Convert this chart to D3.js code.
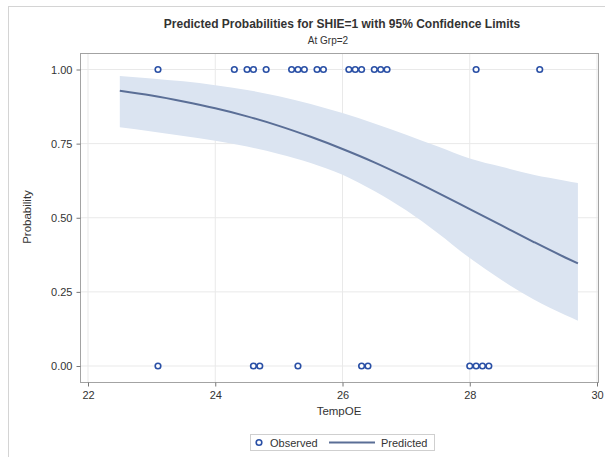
<!DOCTYPE html>
<html>
<head>
<meta charset="utf-8">
<script src="https://cdn.jsdelivr.net/npm/d3@7"></script>
<style>
  body { margin: 0; background: #fff; }
  text { font-family: "Liberation Sans", Arial, sans-serif; fill: #333; }
</style>
</head>
<body>
<script>
// observed responses (TempOE, SHIE)
const obsX1 = [23.1, 24.3, 24.5, 24.6, 24.8, 25.2, 25.3, 25.4, 25.6, 25.7, 26.1, 26.2, 26.3, 26.5, 26.6, 26.7, 28.1, 29.1];
const obsX0 = [23.1, 24.6, 24.7, 25.3, 26.3, 26.4, 28.0, 28.1, 28.2, 28.3];

// predicted curve + 95% limits
const curveX = [22.5, 23.0, 23.5, 24.0, 24.5, 25.0, 25.5, 26.0, 26.5, 27.0, 27.5, 28.0, 28.5, 29.0, 29.5, 29.7];
const predicted = [0.928, 0.912, 0.892, 0.869, 0.842, 0.810, 0.773, 0.732, 0.687, 0.637, 0.584, 0.529, 0.474, 0.419, 0.366, 0.346];
const lower = [0.805, 0.791, 0.776, 0.760, 0.740, 0.715, 0.685, 0.645, 0.590, 0.525, 0.448, 0.364, 0.290, 0.225, 0.172, 0.153];
const upper = [0.978, 0.970, 0.960, 0.947, 0.931, 0.910, 0.884, 0.853, 0.818, 0.780, 0.740, 0.700, 0.672, 0.645, 0.625, 0.617];

const xTicks = [22, 24, 26, 28, 30];
const yTicks = [0, 0.25, 0.5, 0.75, 1];

const width = 605;
const height = 457;

const svg = d3.select('body').append('svg')
  .attr('width', width)
  .attr('height', height);

// outer graph border (runs off the right and bottom of the crop)
svg.append('rect')
  .attr('x', 8.5).attr('y', 6.5)
  .attr('width', 700).attr('height', 500)
  .attr('fill', 'none').attr('stroke', '#d4d4d4');

const frame = {left: 80, right: 598, top: 53, bottom: 382};

const x = d3.scaleLinear().domain([22, 30]).range([88, 597]);
const y = d3.scaleLinear().domain([0, 1]).range([366, 69.5]);

// gridlines
svg.append('g').selectAll('line')
  .data(xTicks)
  .enter().append('line')
  .attr('x1', d => x(d)).attr('x2', d => x(d))
  .attr('y1', frame.top).attr('y2', frame.bottom)
  .attr('stroke', '#e9e9e9');

svg.append('g').selectAll('line')
  .data(yTicks)
  .enter().append('line')
  .attr('x1', frame.left).attr('x2', frame.right)
  .attr('y1', d => y(d)).attr('y2', d => y(d))
  .attr('stroke', '#e9e9e9');

const rows = curveX.map((v, i) => ({x: v, p: predicted[i], lo: lower[i], hi: upper[i]}));

// confidence band
svg.append('path')
  .datum(rows)
  .attr('fill', '#dbe4f1')
  .attr('d', d3.area()
    .curve(d3.curveMonotoneX)
    .x(d => x(d.x))
    .y0(d => y(d.lo))
    .y1(d => y(d.hi)));

// predicted line
svg.append('path')
  .datum(rows)
  .attr('fill', 'none')
  .attr('stroke', '#5a6e96')
  .attr('stroke-width', 2)
  .attr('d', d3.line()
    .curve(d3.curveMonotoneX)
    .x(d => x(d.x))
    .y(d => y(d.p)));

// observed points
const obs = obsX1.map(v => ({x: v, y: 1})).concat(obsX0.map(v => ({x: v, y: 0})));
svg.append('g').selectAll('circle')
  .data(obs)
  .enter().append('circle')
  .attr('cx', d => x(d.x))
  .attr('cy', d => y(d.y))
  .attr('r', 2.8)
  .attr('fill', '#fff')
  .attr('stroke', '#2a50a6')
  .attr('stroke-width', 1.6);

// frame
svg.append('rect')
  .attr('x', frame.left + 0.5).attr('y', frame.top + 0.5)
  .attr('width', frame.right - frame.left).attr('height', frame.bottom - frame.top)
  .attr('fill', 'none').attr('stroke', '#a3a3a3');

// axes
const yAxis = svg.append('g')
  .attr('transform', 'translate(' + (frame.left + 0.5) + ',0)')
  .call(d3.axisLeft(y).tickValues(yTicks).tickFormat(d3.format('.2f')).tickSize(4).tickPadding(4));
const xAxis = svg.append('g')
  .attr('transform', 'translate(0,' + (frame.bottom + 0.5) + ')')
  .call(d3.axisBottom(x).tickValues(xTicks).tickSize(4).tickPadding(5));

[yAxis, xAxis].forEach(g => {
  g.select('.domain').remove();
  g.selectAll('line').attr('stroke', '#777');
  g.selectAll('text').style('font-size', '11px').attr('fill', '#333');
});

// titles
svg.append('text')
  .attr('x', 342).attr('y', 28)
  .attr('text-anchor', 'middle')
  .style('font-size', '12px').style('font-weight', 'bold')
  .attr('fill', '#000')
  .text('Predicted Probabilities for SHIE=1 with 95% Confidence Limits');

svg.append('text')
  .attr('x', 328).attr('y', 44)
  .attr('text-anchor', 'middle')
  .style('font-size', '10px')
  .text('At Grp=2');

svg.append('text')
  .attr('x', 339).attr('y', 415)
  .attr('text-anchor', 'middle')
  .style('font-size', '11.5px')
  .text('TempOE');

svg.append('text')
  .attr('transform', 'translate(31,217) rotate(-90)')
  .attr('text-anchor', 'middle')
  .style('font-size', '11.5px')
  .text('Probability');

// legend
const legend = svg.append('g');
legend.append('rect')
  .attr('x', 250.5).attr('y', 434.5)
  .attr('width', 184).attr('height', 16)
  .attr('fill', '#fff').attr('stroke', '#cfcfcf');
legend.append('circle')
  .attr('cx', 259).attr('cy', 442.5).attr('r', 2.8)
  .attr('fill', '#fff').attr('stroke', '#2a50a6').attr('stroke-width', 1.6);
legend.append('text')
  .attr('x', 270).attr('y', 446.5)
  .style('font-size', '11px')
  .text('Observed');
legend.append('line')
  .attr('x1', 329).attr('x2', 375)
  .attr('y1', 442.5).attr('y2', 442.5)
  .attr('stroke', '#5a6e96').attr('stroke-width', 2);
legend.append('text')
  .attr('x', 381).attr('y', 446.5)
  .style('font-size', '11px')
  .text('Predicted');
</script>
</body>
</html>
